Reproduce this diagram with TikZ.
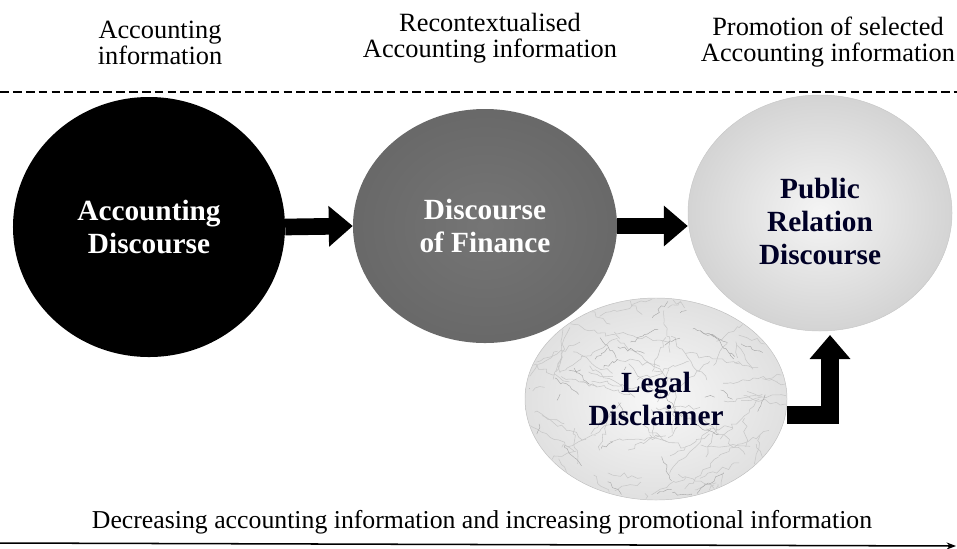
\documentclass[tikz,border=0pt]{standalone}
\usepackage{fontspec}
\setmainfont{Liberation Serif}
\usetikzlibrary{calc, positioning, arrows.meta, shapes.geometric, decorations.pathmorphing}

\begin{document}
\begin{tikzpicture}[
    x = 0.03cm, y = -0.03cm,
    every node/.style = {align=center},
    head/.style = {font=\fontsize{22.5}{22}\selectfont},
    disc/.style = {ellipse, inner sep=0pt,
                   font=\bfseries\fontsize{25}{28}\selectfont},
    blockarr/.style = {line width=0.5cm, line join=miter,
                       -{Triangle[length=0.72cm, width=1.18cm]}},
]
\useasboundingbox (0,0) rectangle (957,548);

% column headings
\node[head] (accinfo)   at (160,43) {Accounting\\information};
\node[head] (recontext) at (490,38) {Recontextualised\\Accounting information};
\node[head] (promotion) at (828,42) {Promotion of selected\\Accounting information};

\coordinate (sepL) at (0,92);
\coordinate (sepR) at (957,92);
\draw[line width=1.6pt, dash pattern=on 7.5pt off 3.5pt] (sepL) -- (sepR);

% the three discourses
\node[disc, minimum width=8.16cm, minimum height=7.8cm, fill=black,
      text=white] (acc) at (149,227) {Accounting\\Discourse};
\node[disc, minimum width=7.92cm, minimum height=7.02cm,
      inner color=black!54, outer color=black!59, text=white]
      (finance) at (485,226) {Discourse\\of Finance};
\node[disc, minimum width=7.92cm, minimum height=7.08cm, draw=black!22,
      inner color=black!4, outer color=black!17, text=black!85!blue]
      (pubrel) at (820,213) {\\[4pt]Public\\Relation\\Discourse};

\draw[blockarr] (acc.east) -- (finance.west);
\draw[blockarr] (finance.east) -- (finance.east -| pubrel.west);

% legal disclaimer, marbled
\node[ellipse, minimum width=7.86cm, minimum height=6.06cm, draw=black!25,
      inner color=black!3, outer color=black!12] (legal) at (656,399) {};
\begin{scope}
  \clip (legal.center) ellipse [x radius=3.9cm, y radius=3.0cm];
  \pgfmathsetseed{11}
  \foreach \v in {1,...,110} {
    \draw[black!22, line width=0.45pt, decorate,
          decoration={random steps, segment length=4pt, amplitude=2pt}]
      ($(legal.center)+(rand*140,rand*110)$) -- ++(rand*60,rand*45);
  }
  \foreach \v in {1,...,40} {
    \draw[black!35, line width=0.35pt, decorate,
          decoration={random steps, segment length=3pt, amplitude=1.5pt}]
      ($(legal.center)+(rand*130,rand*100)$) -- ++(rand*30,rand*25);
  }
\end{scope}
\node[font=\bfseries\fontsize{25}{28}\selectfont,
      text=black!85!blue] (legaltxt) at (legal.center) {Legal\\Disclaimer};

\coordinate (bend) at (830,415);
\coordinate (prtip) at (830,335);
\draw[blockarr, line width=0.56cm] (bend -| legal.east) -- (bend) -- (prtip);

% bottom scale
\node[font=\fontsize{22}{24}\selectfont] (scale) at (482,522)
  {Decreasing accounting information and increasing promotional information};
\coordinate (lstart) at (0,543);
\coordinate (lend) at (956,546);
\draw[line width=1.3pt, -{Stealth[length=8pt, width=6pt]}] (lstart) -- (lend);
\end{tikzpicture}
\end{document}
